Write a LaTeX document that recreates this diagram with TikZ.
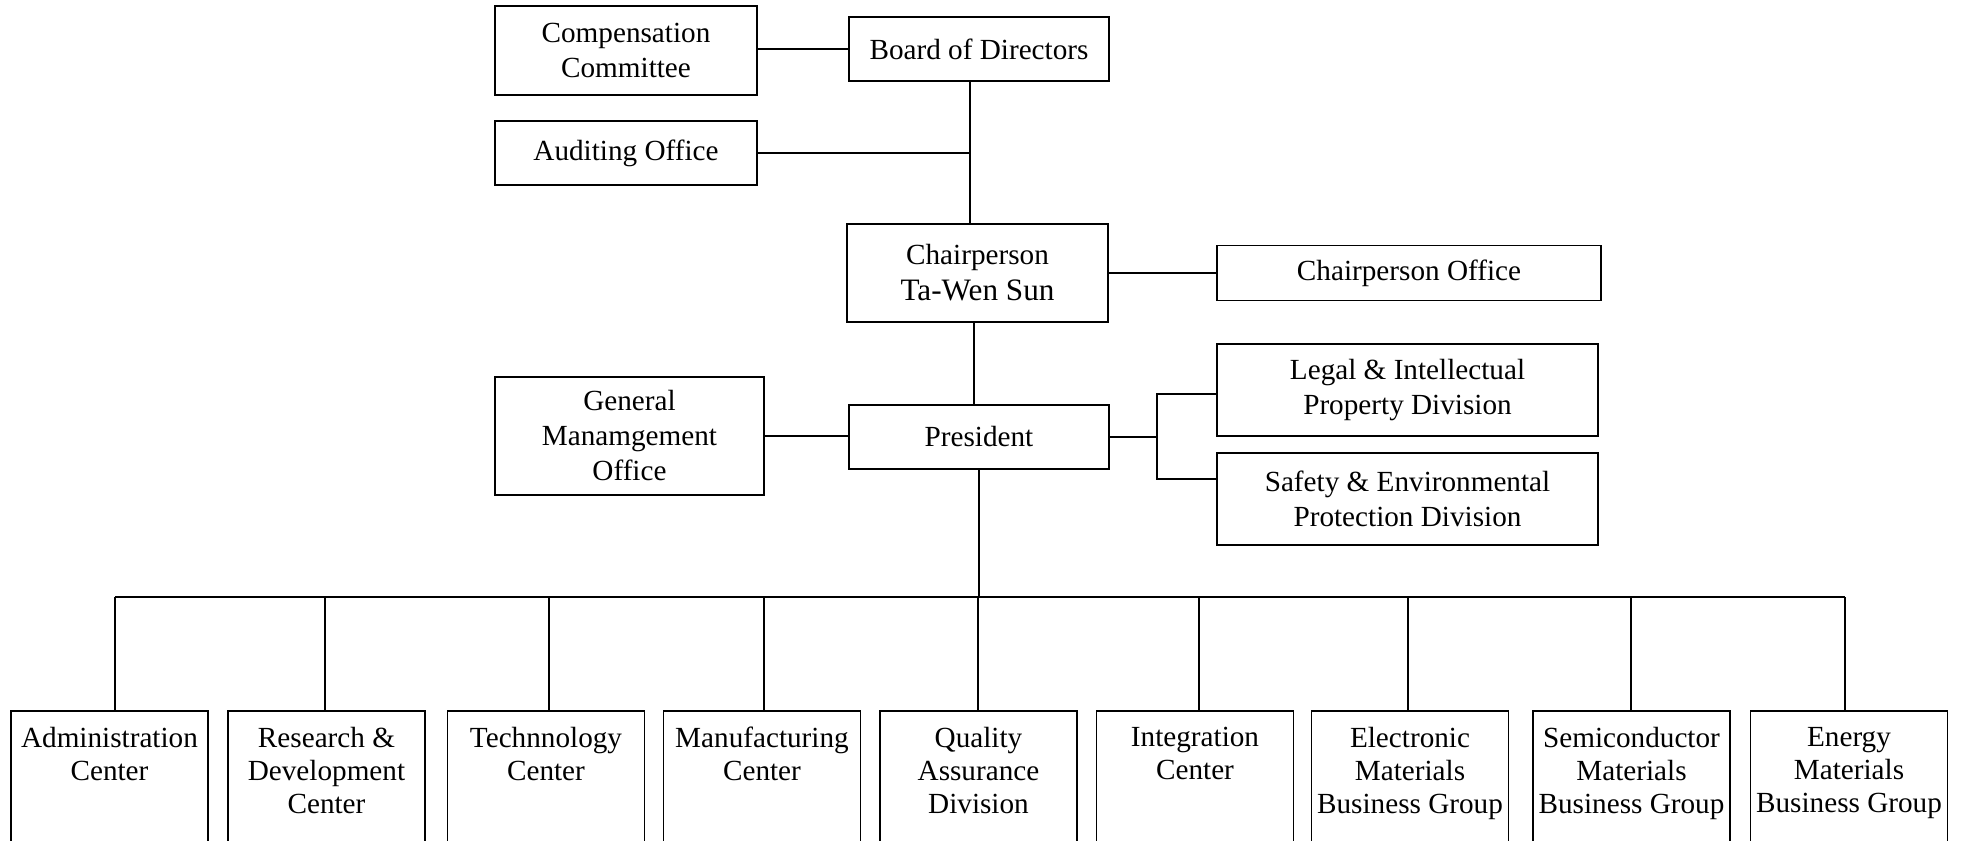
\documentclass[tikz,border=0pt]{standalone}
\usepackage{fontspec}
\setmainfont{Liberation Serif}
\usetikzlibrary{calc}
\begin{document}
\begin{tikzpicture}[x=0.5pt,y=-0.5pt,
  box/.style={draw, line width=0.75pt, inner sep=0pt, align=center, font=\fontsize{14.6}{17.5}\selectfont},
  bbox/.style={draw, line width=0.75pt, inner sep=0pt, minimum width=98.5pt, minimum height=80pt, anchor=north},
  btext/.style={inner sep=0pt, align=center, anchor=north, font=\fontsize{14.6}{16.5}\selectfont},
  conn/.style={line width=0.7pt}]
\clip (0,0) rectangle (1961,841);
\fill[white] (0,0) rectangle (1961,841);
% top nodes
\node[box, minimum width=131pt, minimum height=44.5pt] (comp) at (626,50.5) {Compensation\\Committee};
\node[box, minimum width=130pt, minimum height=32pt] (board) at (979,49) {Board of Directors};
\node[box, minimum width=131pt, minimum height=32pt] (audit) at (626,153) {Auditing Office};
\node[box, minimum width=130.5pt, minimum height=49pt, font=\fontsize{14.6}{18}\selectfont] (chair) at (977.5,273) {Chairperson\\{\fontsize{15.6}{18}\selectfont Ta-Wen Sun}};
\node[box, minimum width=192pt, minimum height=27.5pt] (choff) at (1409,273) {Chairperson Office};
\node[box, minimum width=130pt, minimum height=32pt] (pres) at (979,437) {President};
\node[box, minimum width=134.5pt, minimum height=59pt] (gmo) at (629.5,436) {General\\Manamgement\\Office};
\node[box, minimum width=190.5pt, minimum height=46pt] (legal) at (1407.5,390) {Legal \& Intellectual\\Property Division};
\node[box, minimum width=190.5pt, minimum height=46pt] (safety) at (1407.5,499) {Safety \& Environmental\\Protection Division};
% bottom boxes
\node[bbox] (b1) at (109.5,710) {};
\node[bbox] (b2) at (326.5,710) {};
\node[bbox] (b3) at (546,710) {};
\node[bbox] (b4) at (762,710) {};
\node[bbox] (b5) at (978.5,710) {};
\node[bbox] (b6) at (1195,710) {};
\node[bbox] (b7) at (1410,710) {};
\node[bbox] (b8) at (1631.5,710) {};
\node[bbox] (b9) at (1849,710) {};
\node[btext] (t1) at ([yshift=-8.5pt]b1.north) {Administration\\Center};
\node[btext] (t2) at ([yshift=-8.5pt]b2.north) {Research \&\\Development\\Center};
\node[btext] (t3) at ([yshift=-8.5pt]b3.north) {Technnology\\Center};
\node[btext] (t4) at ([yshift=-8.5pt]b4.north) {Manufacturing\\Center};
\node[btext] (t5) at ([yshift=-8.5pt]b5.north) {Quality\\Assurance\\Division};
\node[btext] (t6) at ([yshift=-8.5pt]b6.north) {Integration\\Center};
\node[btext] (t7) at ([yshift=-8.5pt]b7.north) {Electronic\\Materials\\Business Group};
\node[btext] (t8) at ([yshift=-8.5pt]b8.north) {Semiconductor\\Materials\\Business Group};
\node[btext] (t9) at ([yshift=-8.5pt]b9.north) {Energy\\Materials\\Business Group};
% connectors
\draw[conn] (board.west) -- (board.west -| comp.east);
\coordinate (v1) at ($(board.south)+(-9,0)$);
\draw[conn] (v1) -- (v1 |- chair.north);
\draw[conn] (audit.east) -- (audit.east -| v1);
\draw[conn] (chair.east) -- (chair.east -| choff.west);
\coordinate (v2) at ($(chair.south)+(-3.5,0)$);
\draw[conn] (v2) -- (v2 |- pres.north);
\draw[conn] (gmo.east) -- (gmo.east -| pres.west);
\coordinate (jt) at (1157,394);
\coordinate (jb) at (1157,479);
\draw[conn] (pres.east) -- (pres.east -| jt);
\draw[conn] (jt -| legal.west) -- (jt) -- (jb) -- (jb -| safety.west);
\coordinate (busL) at (115,597);
\coordinate (busR) at (1845,597);
\draw[conn] (pres.south) -- (pres.south |- busL);
\draw[conn] (busL) -- (busR);
\foreach \n/\dx in {b1/5.5,b2/-1.5,b3/3,b4/2,b5/-0.5,b6/4,b7/-2,b8/-0.5,b9/-4}{
  \coordinate (d\n) at ($(\n.north)+(\dx,0)$);
  \draw[conn] (d\n) -- (d\n |- busL);
}
\end{tikzpicture}
\end{document}
